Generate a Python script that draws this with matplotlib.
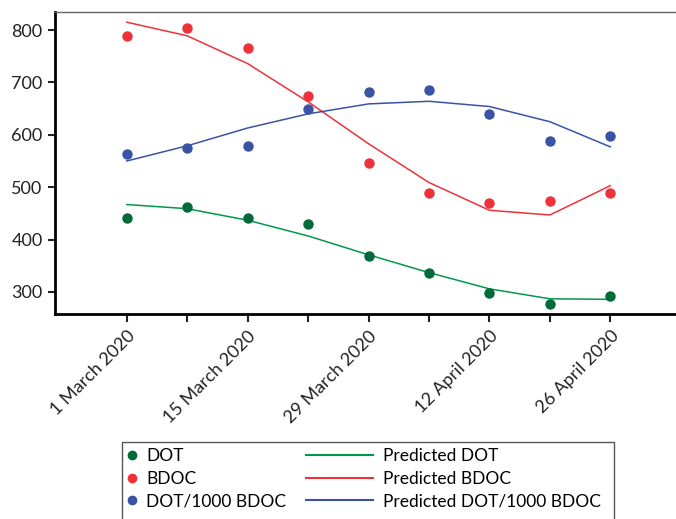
import matplotlib
matplotlib.use("Agg")
import matplotlib.pyplot as plt
import matplotlib.dates as mdates
from matplotlib.lines import Line2D
from matplotlib.patches import Rectangle
import datetime as dt

plt.rcParams['font.family'] = ['Lato', 'DejaVu Sans']

dates = [dt.date(2020, 3, 1) + dt.timedelta(days=7 * i) for i in range(9)]
tick_labels = ["1 March 2020", "", "15 March 2020", "", "29 March 2020", "",
               "12 April 2020", "", "26 April 2020"]

dot = [442, 462, 442, 429, 368, 336, 299, 278, 292]
bdoc = [788, 804, 766, 675, 547, 488, 469, 474, 488]
ratio = [563, 575, 578, 650, 682, 686, 640, 588, 598]
pred_dot = [467, 459, 437, 407, 371, 337, 306, 287, 286]
pred_bdoc = [815, 789, 736, 663, 583, 509, 456, 447, 503]
pred_ratio = [550, 579, 613, 640, 659, 664, 654, 625, 577]

c_dot = '#006a3b'
c_dot_line = '#00994a'
c_red = '#ee3239'
c_blue = '#3a53a4'

fig = plt.figure(figsize=(6.76, 5.19), dpi=100)
ax = fig.add_axes([55 / 676, 1 - 314 / 519, 621 / 676, (314 - 11.7) / 519])

ax.plot(dates, pred_dot, color=c_dot_line, lw=1.1, zorder=2)
ax.plot(dates, pred_bdoc, color=c_red, lw=1.1, zorder=2)
ax.plot(dates, pred_ratio, color=c_blue, lw=1.1, zorder=2)
ax.plot(dates, dot, 'o', color=c_dot, ms=6.5, zorder=3)
ax.plot(dates, bdoc, 'o', color=c_red, ms=6.5, zorder=3)
ax.plot(dates, ratio, 'o', color=c_blue, ms=6.5, zorder=3)

ax.set_ylim(258, 835)
ax.set_yticks([300, 400, 500, 600, 700, 800])
ax.set_xlim(mdates.date2num(dates[0]) - 8.3, mdates.date2num(dates[-1]) + 7.6)
ax.set_xticks(dates)
ax.set_xticklabels(tick_labels, rotation=45, ha='right', rotation_mode='anchor')

for s in ['left', 'bottom']:
    ax.spines[s].set_linewidth(2)
    ax.spines[s].set_color('black')
ax.spines['top'].set_linewidth(1)
ax.spines['top'].set_color('#666666')
ax.spines['right'].set_visible(False)
ax.tick_params(axis='both', labelsize=13, colors='#222222', width=1.5, length=5)
ax.tick_params(axis='x', length=6, pad=4)
ax.tick_params(axis='y', pad=4)

fs = 12.5
h1 = [Line2D([], [], ls='none', marker='o', ms=6, color=c) for c in (c_dot, c_red, c_blue)]
h2 = [Line2D([], [], color=c, lw=1.5) for c in (c_dot_line, c_red, c_blue)]
leg1 = fig.legend(h1, ['DOT', 'BDOC', 'DOT/1000 BDOC'], loc='upper left',
                  bbox_to_anchor=(122 / 676, 1 - 443 / 519), frameon=False, fontsize=fs,
                  handlelength=0.55, handletextpad=0.55, labelspacing=0.38,
                  borderaxespad=0, borderpad=0.3)
leg2 = fig.legend(h2, ['Predicted DOT', 'Predicted BDOC', 'Predicted DOT/1000 BDOC'],
                  loc='upper left', bbox_to_anchor=(301 / 676, 1 - 443 / 519),
                  frameon=False, fontsize=fs, handlelength=3.85, handletextpad=0.6,
                  labelspacing=0.38, borderaxespad=0, borderpad=0.3)
fig.add_artist(Rectangle((122 / 676, -0.05), (614 - 122) / 676, (1 - 442 / 519) + 0.05,
                         transform=fig.transFigure, fill=False, edgecolor='#555555', lw=1))

fig.savefig('out.png', dpi=100)
